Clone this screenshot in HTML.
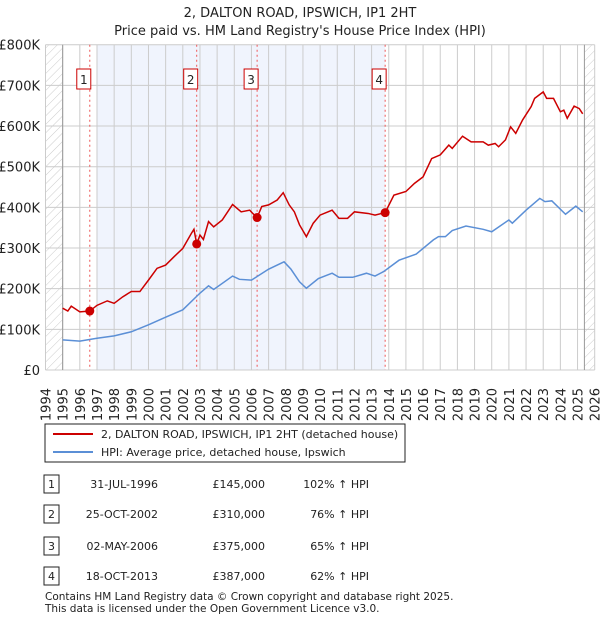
<!DOCTYPE html>
<html><head><meta charset="utf-8"><style>
body{margin:0;background:#fff;font-family:"Liberation Sans","DejaVu Sans",sans-serif;}
#wrap{position:relative;width:600px;height:620px;overflow:hidden}
svg text{font-family:"DejaVu Sans","Liberation Sans",sans-serif}
</style></head><body><div id="wrap">
<svg id="svg" width="600" height="620"></svg>
</div>
<script>
const redYears=[1995,1995.3,1995.5,1996,1996.58,1997,1997.6,1998,1998.5,1999,1999.5,2000,2000.5,2001,2001.5,2002,2002.5,2002.65,2002.81,2003,2003.2,2003.5,2003.8,2004.3,2004.9,2005.4,2005.9,2006.1,2006.33,2006.6,2007,2007.5,2007.85,2008.2,2008.5,2008.8,2009.2,2009.6,2010,2010.7,2011.1,2011.6,2012,2012.8,2013.2,2013.79,2014.3,2015,2015.5,2016,2016.5,2017,2017.5,2017.7,2018.3,2018.8,2019.5,2019.8,2020.2,2020.4,2020.8,2021.1,2021.4,2021.8,2022.3,2022.5,2023,2023.2,2023.6,2024,2024.2,2024.4,2024.8,2025.1,2025.3];
const redVals=[152,145,157,143,145,159,170,164,180,193,193,221,250,258,279,299,336,346,310,332,321,365,352,369,407,389,393,384,375,402,406,418,436,406,389,357,328,361,381,393,373,373,389,385,381,387,430,439,459,475,520,529,553,545,575,561,561,553,557,549,566,598,582,615,648,668,684,668,668,635,639,619,649,643,630];
const blueYears=[1995,1996,1997,1998,1999,2000,2001,2002,2003,2003.5,2003.8,2004.9,2005.3,2006,2007,2007.9,2008.3,2008.8,2009.2,2009.9,2010.7,2011.1,2011.9,2012.7,2013.2,2013.7,2014.6,2015.6,2016.6,2016.9,2017.3,2017.7,2018.5,2019.5,2020,2021,2021.2,2022,2022.8,2023.1,2023.5,2024.3,2024.9,2025.3];
const blueVals=[74,71,78,84,94,111,130,148,189,207,198,231,223,221,248,266,248,217,201,225,238,228,228,238,231,242,270,285,320,328,328,343,354,346,340,369,361,393,422,414,416,383,403,389];
const saleYears=[1996.58,2002.81,2006.33,2013.79];
const salePrices=[145,310,375,387];
const yTicks=[0,100,200,300,400,500,600,700,800];
const yTickLabels=["£0","£100K","£200K","£300K","£400K","£500K","£600K","£700K","£800K"];
const xTicks=[1994,1995,1996,1997,1998,1999,2000,2001,2002,2003,2004,2005,2006,2007,2008,2009,2010,2011,2012,2013,2014,2015,2016,2017,2018,2019,2020,2021,2022,2023,2024,2025,2026];

const L=45.5,R=594.7,T=44.7,B=370;
const x=v=>L+(v-1994)*(R-L)/32;
const y=v=>B-v*(B-T)/800;
const svg=document.getElementById('svg');
const NS='http://www.w3.org/2000/svg';
function mk(tag,attrs,parent){const e=document.createElementNS(NS,tag);for(const k in attrs)e.setAttribute(k,attrs[k]);(parent||svg).appendChild(e);return e;}
const defs=mk('defs',{});
const pat=mk('pattern',{id:'hatch',width:6,height:6,patternUnits:'userSpaceOnUse',patternTransform:'rotate(45)'},defs);
mk('line',{x1:0,y1:0,x2:0,y2:6,stroke:'#ccc','stroke-width':1},pat);

let t=mk('text',{x:300,y:17,'text-anchor':'middle','font-size':13,fill:'#222'});t.textContent='2, DALTON ROAD, IPSWICH, IP1 2HT';

t=mk('text',{x:300,y:35,'text-anchor':'middle','font-size':13,fill:'#222'});t.textContent="Price paid vs. HM Land Registry's House Price Index (HPI)";


let r=mk('rect',{x:x(1997),y:T,width:x(saleYears[3])-x(1997),height:B-T,fill:'#f0f4fd'});

r=mk('rect',{x:L,y:T,width:x(1995)-L,height:B-T,fill:'url(#hatch)'});

r=mk('rect',{x:x(2025.4),y:T,width:R-x(2025.4),height:B-T,fill:'url(#hatch)'});


const g=mk('g',{});
xTicks.forEach(v=>mk('line',{x1:x(v),x2:x(v),y1:T,y2:B,stroke:'#ccc','stroke-width':1},g));
yTicks.forEach(v=>mk('line',{x1:L,x2:R,y1:y(v),y2:y(v),stroke:'#ccc','stroke-width':1},g));
mk('line',{x1:x(1995),x2:x(1995),y1:T,y2:B,stroke:'#999'},g);
mk('line',{x1:x(2025.4),x2:x(2025.4),y1:T,y2:B,stroke:'#999'},g);

yTicks.forEach((v,i)=>{const e=mk('text',{x:40,y:y(v)+5,'text-anchor':'end','font-size':13,fill:'#222'});e.textContent=yTickLabels[i];
});
xTicks.forEach(v=>{const e=mk('text',{x:x(v)+5,y:388,'text-anchor':'end','font-size':13,fill:'#222',transform:`rotate(-90 ${x(v)+5} 388)`});e.textContent=v;
});

saleYears.forEach((s,i)=>{
 const l=mk('line',{x1:x(s),x2:x(s),y1:T,y2:B,stroke:'#e55','stroke-width':1,'stroke-dasharray':'2,3'});
 
 const b=mk('rect',{x:x(s)-13,y:69,width:14,height:20,fill:'#fff',stroke:'#c00','stroke-width':1});
 
 const tt=mk('text',{x:x(s)-6,y:84,'text-anchor':'middle','font-size':12,fill:'#222'});tt.textContent=i+1;
 
});

let p=mk('polyline',{points:blueYears.map((v,i)=>x(v)+','+y(blueVals[i])).join(' '),fill:'none',stroke:'#5b8fd6','stroke-width':1.5});

p=mk('polyline',{points:redYears.map((v,i)=>x(v)+','+y(redVals[i])).join(' '),fill:'none',stroke:'#cc0000','stroke-width':1.5});

saleYears.forEach((s,i)=>{const c=mk('circle',{cx:x(s),cy:y(salePrices[i]),r:4.5,fill:'#cc0000'});
});

r=mk('rect',{x:45,y:424,width:360,height:38,fill:'#fff',stroke:'#222','stroke-width':1});

mk('line',{x1:53,x2:93,y1:434,y2:434,stroke:'#cc0000','stroke-width':2});
mk('line',{x1:53,x2:93,y1:452,y2:452,stroke:'#5b8fd6','stroke-width':2});
t=mk('text',{x:101,y:438,'font-size':11,fill:'#222'});t.textContent='2, DALTON ROAD, IPSWICH, IP1 2HT (detached house)';

t=mk('text',{x:101,y:456,'font-size':11,fill:'#222'});t.textContent='HPI: Average price, detached house, Ipswich';


const rows=[["31-JUL-1996","£145,000","102% ↑ HPI"],["25-OCT-2002","£310,000","76% ↑ HPI"],["02-MAY-2006","£375,000","65% ↑ HPI"],["18-OCT-2013","£387,000","62% ↑ HPI"]];
const rowY=[484,514,546,576];
rows.forEach((rw,i)=>{
 const yy=rowY[i];
 const b=mk('rect',{x:44,y:yy-9,width:15,height:18,fill:'#fff',stroke:'#222'});
 let e=mk('text',{x:51.5,y:yy+4,'text-anchor':'middle','font-size':11,fill:'#222'});e.textContent=i+1;
 e=mk('text',{x:158,y:yy+4,'text-anchor':'end','font-size':11,fill:'#222'});e.textContent=rw[0];
 e=mk('text',{x:265,y:yy+4,'text-anchor':'end','font-size':11,fill:'#222'});e.textContent=rw[1];
 e=mk('text',{x:369,y:yy+4,'text-anchor':'end','font-size':11,fill:'#222'});e.textContent=rw[2];
});
t=mk('text',{x:45,y:600,'font-size':10.5,fill:'#222'});t.textContent='Contains HM Land Registry data © Crown copyright and database right 2025.';

t=mk('text',{x:45,y:612,'font-size':10.5,fill:'#222'});t.textContent='This data is licensed under the Open Government Licence v3.0.';

</script></body></html>
